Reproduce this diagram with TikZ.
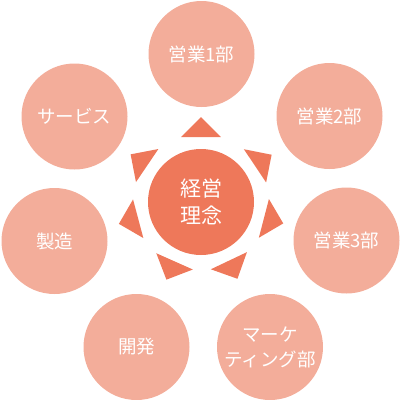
\documentclass[tikz,border=0pt]{standalone}
\usepackage{fontspec}
\newfontfamily\jp{Noto Sans CJK JP}
\definecolor{outerc}{HTML}{F3AD9A}
\definecolor{innerc}{HTML}{EE785A}
\begin{document}
\begin{tikzpicture}[x=1pt,y=-1pt,
  outer/.style={circle,fill=outerc,minimum size=106pt,inner sep=0pt,text=white,font=\jp\fontsize{18.5}{25}\selectfont,align=center},
  inner/.style={circle,fill=innerc,minimum size=106pt,inner sep=0pt,text=white,font=\jp\fontsize{21}{27}\selectfont,align=center},
  tri/.style={fill=innerc}]
\useasboundingbox (0,0) rectangle (400,400);
\node[inner] (c0) at (201,202) {経営\\理念};
\node[outer] (e1) at (201.5,54) {営業1部};
\node[outer] (e2) at (329.5,116) {営業2部};
\node[outer] (e3) at (346.5,240.5) {営業3部};
\node[outer] (mk) at (270,347) {マーケ\\ティング部};
\node[outer] (kh) at (136.5,347) {開発};
\node[outer] (sz) at (54.5,241) {製造};
\node[outer] (sv) at (74.5,116.5) {サービス};
\foreach \a in {-90,-33.8,14.6,64.6,114,165.1,214.1}{
  \fill[tri,shift={(c0.center)}] (\a:85) -- (\a+17.1:68) -- (\a-17.1:68) -- cycle;
}
\end{tikzpicture}
\end{document}
